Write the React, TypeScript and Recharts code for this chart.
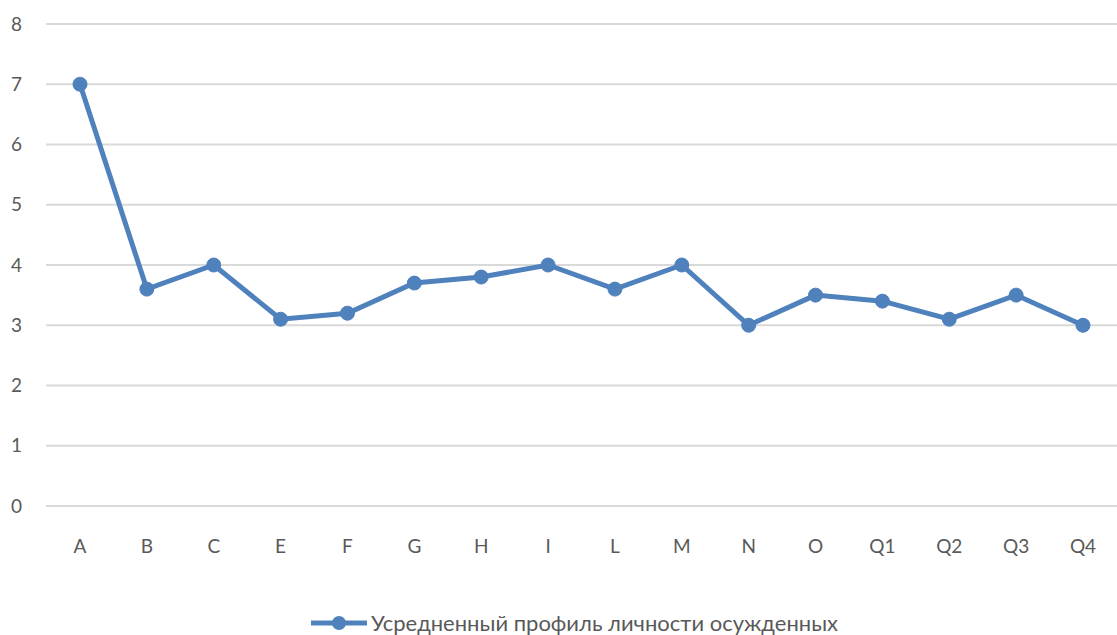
import { CartesianGrid, Legend, Line, LineChart, XAxis, YAxis } from 'recharts'

const categories = ['A', 'B', 'C', 'E', 'F', 'G', 'H', 'I', 'L', 'M', 'N', 'O', 'Q1', 'Q2', 'Q3', 'Q4']
const profile = [7, 3.6, 4, 3.1, 3.2, 3.7, 3.8, 4, 3.6, 4, 3, 3.5, 3.4, 3.1, 3.5, 3]
const yTicks = [0, 1, 2, 3, 4, 5, 6, 7, 8]
const seriesName = 'Усредненный профиль личности осужденных'

const data = categories.map((c, i) => ({ cat: c, value: profile[i] }))

const COLOR = '#4f81bd'
const TEXT = '#595959'
const FONT = 'Lato, "Open Sans", sans-serif'

function LegendContent() {
  return (
    <div style={{ display: 'flex', justifyContent: 'center', alignItems: 'center', fontFamily: FONT, fontSize: 22, color: TEXT, paddingLeft: 30 }}>
      <svg width={60} height={20} style={{ marginRight: 2 }}>
        <line x1={2} y1={10} x2={58} y2={10} stroke={COLOR} strokeWidth={5} />
        <circle cx={30} cy={10} r={7} fill={COLOR} />
      </svg>
      <span>{seriesName}</span>
    </div>
  )
}

export default function App() {
  return (
    <div style={{ position: 'absolute', left: 0, top: 0, width: 1117, height: 635, background: '#fff' }}>
      <LineChart width={1117} height={635} data={data} margin={{ top: 24, right: 0, left: 0, bottom: 0 }}>
        <CartesianGrid vertical={false} stroke="#d9d9d9" strokeWidth={2} />
        <XAxis
          dataKey="cat"
          axisLine={false}
          tickLine={false}
          tickSize={0}
          tickMargin={34}
          height={102}
          interval={0}
          padding={{ left: 34, right: 34 }}
          tick={{ fill: TEXT, fontSize: 19, fontFamily: FONT }}
        />
        <YAxis
          domain={[0, 8]}
          ticks={yTicks}
          width={46}
          axisLine={false}
          tickLine={false}
          tickSize={0}
          tickMargin={24}
          tick={{ fill: TEXT, fontSize: 19, fontFamily: FONT }}
        />
        <Legend verticalAlign="bottom" content={<LegendContent />} wrapperStyle={{ bottom: -1 }} />
        <Line
          type="linear"
          dataKey="value"
          name={seriesName}
          stroke={COLOR}
          strokeWidth={5}
          dot={{ r: 7, fill: COLOR, stroke: COLOR, strokeWidth: 1 }}
          activeDot={false}
          isAnimationActive={false}
        />
      </LineChart>
    </div>
  )
}
